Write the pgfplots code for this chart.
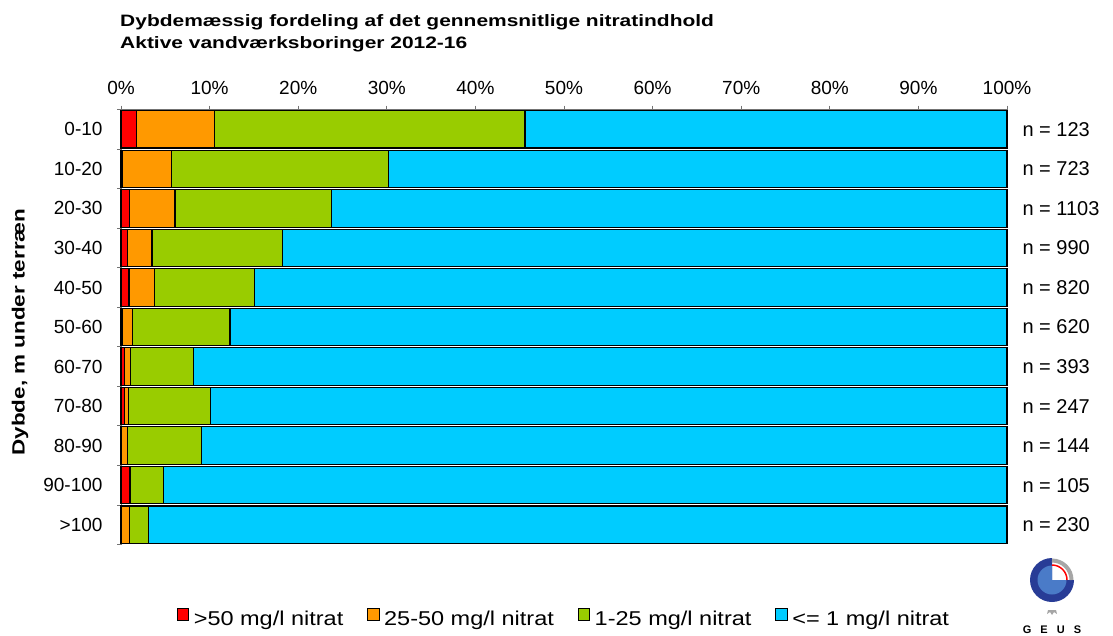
\documentclass[border=0pt]{standalone}
\usepackage{pgfplots}
\usepackage{pgfplotstable}
\pgfplotsset{compat=1.18}
\usepackage{fontspec}
\setmainfont{Liberation Sans}
\newfontfamily\titlefont[FakeStretch=1.27]{Liberation Sans}
\newfontfamily\legfont[FakeStretch=1.175]{Liberation Sans}

\definecolor{cRed}{HTML}{FF0000}
\definecolor{cOrange}{HTML}{FF9900}
\definecolor{cGreen}{HTML}{99CC00}
\definecolor{cBlue}{HTML}{00CCFF}
\definecolor{geusdark}{HTML}{283C96}
\definecolor{geuslight}{HTML}{4A7BC8}

% share of boreholes per depth interval, >100 m first (bottom row)
\pgfplotstableread{
y red orange green blue
0  0.00 0.95 2.15 96.90
1  0.97 0.10 3.73 95.20
2  0.10 0.60 8.40 90.90
3  0.40 0.40 9.30 89.90
4  0.35 0.70 7.15 91.80
5  0.20 1.10 11.00 87.70
6  0.90 2.90 11.30 84.90
7  0.75 2.75 14.70 81.80
8  1.00 5.10 17.70 76.20
9  0.20 5.50 24.50 69.80
10 1.70 8.90 35.00 54.40
}\datatable

\begin{document}
\begin{tikzpicture}
\useasboundingbox (0,0) rectangle (1113pt,-635pt);

\node[anchor=base west, font=\titlefont\bfseries\fontsize{16.5}{20}\selectfont]
  at (116.7pt,-26.7pt) {Dybdemæssig fordeling af det gennemsnitlige nitratindhold};
\node[anchor=base west, font=\titlefont\bfseries\fontsize{16.5}{20}\selectfont]
  at (116.7pt,-48.3pt) {Aktive vandværksboringer 2012-16};

\begin{axis}[
  at={(121pt,-109.5pt)}, anchor=north west,
  scale only axis, width=886pt, height=435pt,
  xbar stacked, bar width=37.5pt,
  xmin=0, xmax=100, ymin=-0.5, ymax=10.5,
  clip=false,
  axis x line*=top, axis y line*=left,
  axis line style={black!55, line width=0.8pt},
  tick align=outside, major tick length=4pt,
  tick style={black!55, line width=0.8pt},
  xtick={0,10,...,100},
  xticklabels={0\%,10\%,20\%,30\%,40\%,50\%,60\%,70\%,80\%,90\%,100\%},
  xticklabel style={yshift=7pt},
  ytick={-0.5,0.5,...,10.5}, yticklabels={},
  extra y ticks={0,...,10},
  extra y tick labels={>100,90-100,80-90,70-80,60-70,50-60,40-50,30-40,20-30,10-20,0-10},
  extra y tick style={tick style={draw=none}, yticklabel style={xshift=-11pt}},
  ticklabel style={font=\fontsize{19}{22}\selectfont},
  legend columns=4,
  legend style={at={(0.5,-0.17)}, anchor=center, draw=none, fill=none,
    font=\legfont\fontsize{20}{24}\selectfont,
    /tikz/every even column/.append style={column sep=22pt}},
  legend image code/.code={\draw[#1,draw=black,line width=0.8pt] (0pt,-2pt) rectangle (11.5pt,10pt);},
  every axis plot/.append style={draw=black, line width=1.1pt},
]
\addplot[fill=cRed] table[x=red, y=y] {\datatable};
\addlegendentry{\hspace{2.5pt}>50 mg/l nitrat}
\addplot[fill=cOrange] table[x=orange, y=y] {\datatable};
\addlegendentry{\hspace{2.5pt}25-50 mg/l nitrat}
\addplot[fill=cGreen] table[x=green, y=y] {\datatable};
\addlegendentry{\hspace{2.5pt}1-25 mg/l nitrat}
\addplot[fill=cBlue] table[x=blue, y=y] {\datatable};
\addlegendentry{\hspace{2.5pt}<= 1 mg/l nitrat}

\foreach \yy/\nn in {10/123, 9/723, 8/1103, 7/990, 6/820, 5/620, 4/393, 3/247, 2/144, 1/105, 0/230} {
  \edef\tmp{\noexpand\node[anchor=west, xshift=12pt, font=\noexpand\fontsize{20}{24}\noexpand\selectfont] at (axis cs:100,\yy) {n = \nn};}
  \tmp
}
\end{axis}

\node[rotate=90, font=\titlefont\bfseries\fontsize{17.7}{20}\selectfont]
  at (20pt,-332pt) {Dybde, m under terræn};

% GEUS logo
\begin{scope}[shift={(1052pt,-580pt)}]
  \fill[geusdark] (0,0) -- (90:22pt) arc[start angle=90, end angle=360, radius=22pt] -- cycle;
  \fill[geuslight] (0,0) -- (90:14.5pt) arc[start angle=90, end angle=360, radius=14.5pt] -- cycle;
  \draw[black!35, line width=4pt] (90:19.5pt) arc[start angle=90, end angle=0, radius=19.5pt];
  \draw[red, line width=1.5pt] (90:15pt) arc[start angle=90, end angle=0, radius=15pt];
  \fill[black!35] (-4pt,-30pt) -- (-5pt,-34pt) -- (-2pt,-32pt) -- (0,-35pt) -- (2pt,-32pt) -- (5pt,-34pt) -- (4pt,-30pt) -- cycle;
  \node[font=\bfseries\fontsize{11}{13}\selectfont] at (0,-50pt) {G\hspace{9pt}E\hspace{9pt}U\hspace{9pt}S};
\end{scope}
\end{tikzpicture}
\end{document}
